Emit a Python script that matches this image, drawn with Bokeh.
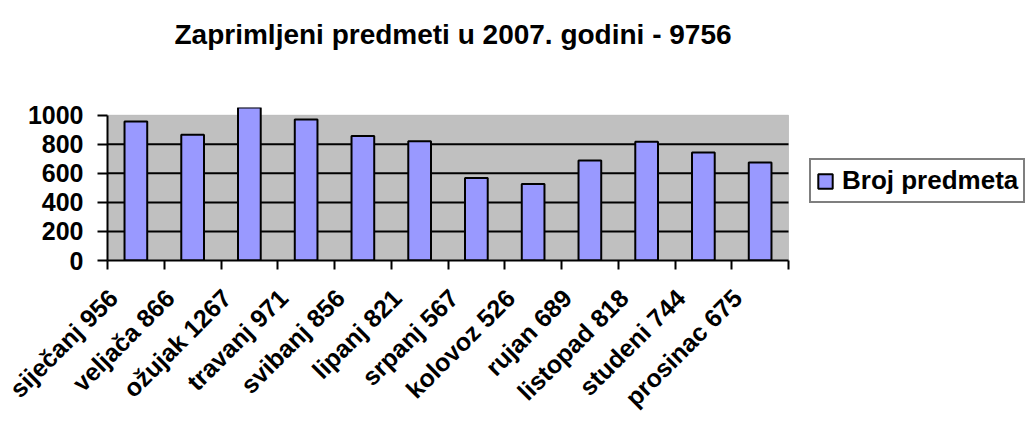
from bokeh.plotting import figure
from bokeh.models import (Range1d, FixedTicker, BoxAnnotation, Legend, LegendItem,
                          ColumnDataSource, Title)
from bokeh.embed import file_html
from bokeh.resources import INLINE
import math

months = ["siječanj", "veljača", "ožujak", "travanj", "svibanj", "lipanj",
          "srpanj", "kolovoz", "rujan", "listopad", "studeni", "prosinac"]
counts = [956, 866, 1267, 971, 856, 821, 567, 526, 689, 818, 744, 675]
y_ticks = [0, 200, 400, 600, 800, 1000]
grid_vals = [200, 400, 600, 800]
title_text = "Zaprimljeni predmeti u 2007. godini - 9756"
series_name = "Broj predmeta"

FONT = "Liberation Sans"
n = len(months)
xs = [i + 0.5 for i in range(n)]
label_pos = [i + 0.1 for i in range(n)]
labels = [f"{m} {c}" for m, c in zip(months, counts)]

W, H = 1030, 424
LEFT, TOP, FW, FH = 107, 107, 681, 154
x_end = n * (W - LEFT) / FW

src = ColumnDataSource(dict(x=xs, top=counts))

p = figure(width=W, height=H, output_backend="svg", toolbar_location=None,
           x_range=Range1d(0, x_end), y_range=Range1d(0, 1053),
           min_border_left=LEFT, min_border_right=0, min_border_top=TOP,
           min_border_bottom=H - TOP - FH)
p.title = Title(text=title_text, align="left", offset=67, text_font=FONT,
                text_color="black", text_font_size="28px",
                text_font_style="bold", standoff=26)
# spacer between title and plot area
p.add_layout(Title(text=" ", text_font_size="1px", standoff=42), "above")
p.outline_line_color = None
p.background_fill_color = "white"
p.border_fill_color = "white"

bg = BoxAnnotation(left=0, right=n, bottom=0, top=1000, fill_color="#C0C0C0",
                   fill_alpha=1, line_color="#808080", line_width=1, level="image")
p.add_layout(bg)

p.xgrid.visible = False
p.ygrid.visible = False
p.segment(x0=0, x1=n, y0=grid_vals, y1=grid_vals, line_color="black", line_width=2)

r = p.vbar(x="x", top="top", width=0.4, source=src, fill_color="#9999FF",
           line_color="black", line_width=2)

# y axis
ya = p.yaxis[0]
ya.ticker = FixedTicker(ticks=y_ticks)
ya.bounds = (0, 1000)
ya.axis_line_width = 2
ya.major_tick_line_width = 2
ya.major_tick_out = 10
ya.major_tick_in = 0
ya.minor_tick_line_color = None
ya.major_label_text_font = FONT
ya.major_label_text_color = "black"
ya.major_label_text_font_style = "bold"
ya.major_label_text_font_size = "25px"
ya.major_label_standoff = 14

# x axis
xa = p.xaxis[0]
xa.bounds = (0, n)
xa.ticker = FixedTicker(ticks=label_pos, minor_ticks=list(range(n + 1)))
xa.major_label_overrides = {x: l for x, l in zip(label_pos, labels)}
xa.major_label_orientation = math.pi / 4
xa.axis_line_width = 2
xa.major_tick_line_color = None
xa.minor_tick_line_width = 2
xa.minor_tick_out = 9
xa.minor_tick_in = 0
xa.major_label_text_font = FONT
xa.major_label_text_color = "black"
xa.major_label_text_font_style = "bold"
xa.major_label_text_font_size = "25px"
xa.major_label_standoff = 24

legend = Legend(items=[LegendItem(label=series_name, renderers=[r])],
                location=(702, 57), border_line_color="black", border_line_width=2,
                background_fill_color="white", background_fill_alpha=1,
                label_text_font=FONT, label_text_font_style="bold",
                label_text_color="black",
                label_text_font_size="26px", glyph_width=18, glyph_height=18,
                padding=5, margin=0, label_standoff=8, spacing=0)
p.add_layout(legend)

open("out.html", "w").write(file_html(p, INLINE))
